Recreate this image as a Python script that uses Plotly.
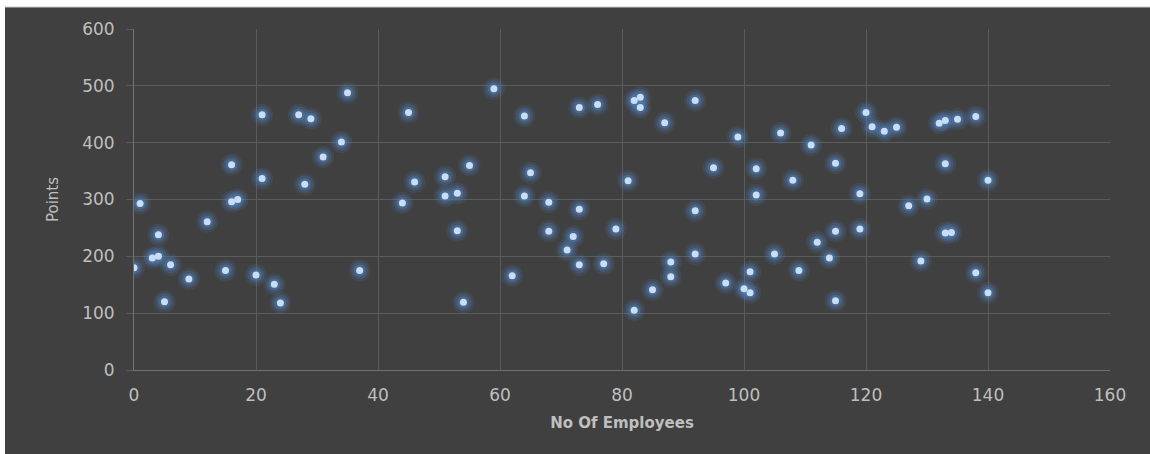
import plotly.graph_objects as go

# Employees vs points
employees = [0, 1, 4, 3, 4, 5, 6, 9, 12, 15, 16, 16, 17, 20, 21, 21, 23, 24, 27, 29,
             28, 31, 34, 35, 37, 45, 44, 46, 51, 51, 53, 55, 53, 54, 59, 64, 65, 64, 62, 68,
             68, 72, 71, 73, 73, 73, 76, 77, 79, 81, 82, 83, 83, 82, 85, 87, 88, 88, 92, 92,
             92, 95, 99, 97, 100, 101, 101, 102, 102, 105, 106, 108, 109, 111, 112, 114, 115, 115, 115, 116,
             119, 119, 120, 121, 123, 125, 127, 129, 130, 132, 133, 133, 133, 134, 135, 138, 138, 140, 140]
points = [180, 293, 238, 197, 200, 120, 185, 160, 261, 175, 361, 296, 300, 167, 449, 337, 151, 118, 449, 442,
          327, 375, 401, 488, 175, 453, 294, 331, 340, 306, 311, 360, 245, 119, 495, 447, 347, 306, 166, 295,
          244, 235, 211, 462, 283, 185, 467, 187, 248, 333, 474, 480, 462, 105, 141, 435, 190, 164, 474, 280,
          204, 356, 410, 153, 143, 136, 173, 354, 308, 204, 417, 334, 175, 396, 225, 197, 364, 244, 122, 425,
          310, 248, 453, 428, 420, 427, 289, 192, 301, 434, 439, 363, 241, 242, 441, 446, 171, 334, 136]

x_ticks = [0, 20, 40, 60, 80, 100, 120, 140, 160]
y_ticks = [0, 100, 200, 300, 400, 500, 600]

BG = "#404040"
GRID = "#5b5b5b"
AXIS = "#727272"
TEXT = "#bfbfbf"

fig = go.Figure()

# soft glow around each marker
for size, alpha in [(22, 0.15), (17, 0.25), (12, 0.42)]:
    fig.add_trace(go.Scatter(
        x=employees, y=points, mode="markers",
        marker=dict(size=size, color=f"rgba(79,129,189,{alpha})", line=dict(width=0)),
        hoverinfo="skip", showlegend=False,
    ))

# bright marker core
fig.add_trace(go.Scatter(
    x=employees, y=points, mode="markers",
    marker=dict(size=7, color="#c9def5", line=dict(width=0)),
    showlegend=False,
))

fig.update_layout(
    width=1150, height=454,
    margin=dict(l=134, r=40, t=29, b=84),
    paper_bgcolor=BG, plot_bgcolor=BG,
    font=dict(family="DejaVu Sans", color=TEXT),
    shapes=[
        # white strips along the top and left edges of the page
        dict(type="rect", xref="paper", yref="paper",
             x0=-134 / 976, x1=1016 / 976, y0=1 + 22 / 341, y1=1 + 29 / 341,
             fillcolor="white", line=dict(width=0), layer="below"),
        dict(type="line", xref="paper", yref="paper",
             x0=-129 / 976, x1=1016 / 976, y0=1 + 22 / 341, y1=1 + 22 / 341,
             line=dict(color="#c8c8c8", width=1), layer="below"),
        dict(type="rect", xref="paper", yref="paper",
             x0=-134 / 976, x1=-129 / 976, y0=-84 / 341, y1=1 + 29 / 341,
             fillcolor="white", line=dict(width=0), layer="below"),
    ],
)

fig.update_xaxes(
    range=[0, 160], tickvals=x_ticks, ticktext=[str(v) for v in x_ticks],
    showgrid=True, gridcolor=GRID, gridwidth=1,
    showline=True, linecolor=AXIS, linewidth=1, mirror=False,
    zeroline=False, ticks="", ticklabelstandoff=10,
    tickfont=dict(size=17, color=TEXT, family="DejaVu Sans"),
    title=dict(text="<b>No Of Employees</b>", standoff=13,
               font=dict(size=15, color=TEXT, family="DejaVu Sans")),
)
fig.update_yaxes(
    range=[0, 600], tickvals=y_ticks, ticktext=[str(v) for v in y_ticks],
    showgrid=True, gridcolor=GRID, gridwidth=1,
    showline=True, linecolor=AXIS, linewidth=1,
    zeroline=False, ticks="outside", ticklen=7, tickcolor=GRID,
    ticklabelstandoff=8,
    tickfont=dict(size=17, color=TEXT, family="DejaVu Sans"),
    title=dict(text="Points", standoff=19,
               font=dict(size=15, color=TEXT, family="DejaVu Sans")),
)

fig.write_html("out.html")
